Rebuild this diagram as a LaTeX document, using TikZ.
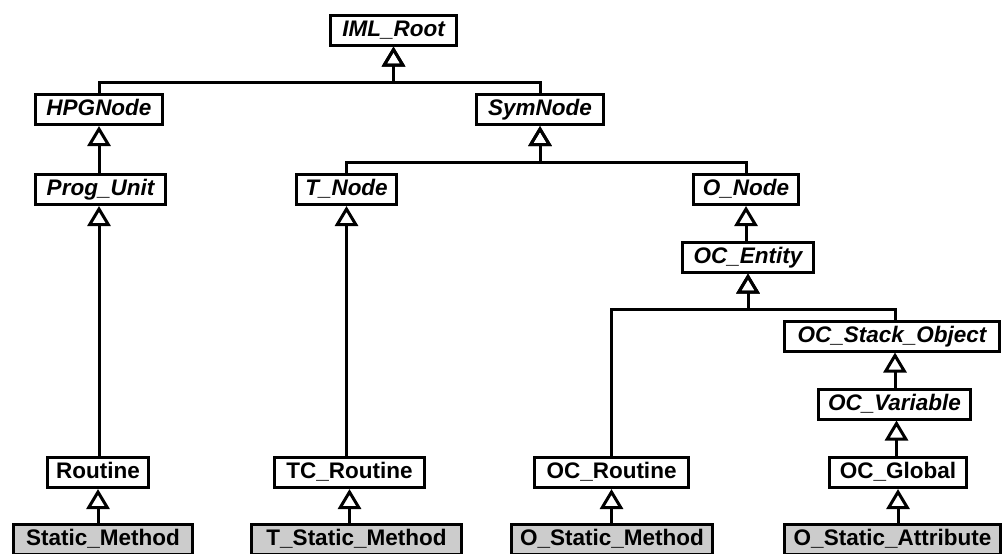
\documentclass[tikz,border=0pt]{standalone}
\usepackage{fontspec}
\setmainfont{Liberation Sans}
\usetikzlibrary{arrows.meta}
\definecolor{leafgray}{RGB}{204,204,204}
\begin{document}
\begin{tikzpicture}[x=1pt,y=-1pt,
  cls/.style={draw, line width=3pt, minimum height=30pt, inner sep=0pt,
    text height=16pt, text depth=3.5pt,
    fill=white, font=\fontsize{22.5}{26}\selectfont\bfseries},
  abstract/.style={cls, font=\fontsize{22.5}{26}\selectfont\bfseries\itshape},
  leaf/.style={cls, fill=leafgray},
  inh/.style={line width=3pt, -{Triangle[open,length=20pt,width=23pt]}}]
\useasboundingbox (0,0) rectangle (1004,554);

% class boxes
\node[abstract, minimum width=126pt] (root)   at (393.5,30)    {IML\_Root};
\node[abstract, minimum width=127pt] (hpg)    at (99,109.5)    {HPGNode};
\node[abstract, minimum width=127pt] (sym)    at (540,109.5)   {SymNode};
\node[abstract, minimum width=130pt] (prog)   at (100.5,189.5) {Prog\_Unit};
\node[abstract, minimum width=100pt] (tnode)  at (346.5,189.5) {T\_Node};
\node[abstract, minimum width=105pt] (onode)  at (746,189.5)   {O\_Node};
\node[abstract, minimum width=131pt] (ocent)  at (748,257)     {OC\_Entity};
\node[abstract, minimum width=215pt] (ocso)   at (892,336)     {OC\_Stack\_Object};
\node[abstract, minimum width=152pt] (ocvar)  at (894.5,404)   {OC\_Variable};
\node[cls, minimum width=101pt]      (rout)   at (98,472.5)    {Routine};
\node[cls, minimum width=150pt]      (tcr)    at (349.5,472.5) {TC\_Routine};
\node[cls, minimum width=154pt]      (ocr)    at (611.5,472.5) {OC\_Routine};
\node[cls, minimum width=137pt]      (ocglob) at (898,472.5)   {OC\_Global};
\node[leaf, minimum width=179pt]     (sm)     at (103,539.5)   {Static\_Method};
\node[leaf, minimum width=210pt]     (tsm)    at (356.5,539.5) {T\_Static\_Method};
\node[leaf, minimum width=201pt]     (osm)    at (612,539.5)   {O\_Static\_Method};
\node[leaf, minimum width=216pt]     (osa)    at (892.5,539.5) {O\_Static\_Attribute};

% heights of the shared horizontal bars
\coordinate (barroot) at (0,82);
\coordinate (barsym)  at (0,162);
\coordinate (barent)  at (0,309);

% generalisations joined by a bar
\draw[inh] (hpg.north) -- (hpg.north |- barroot) -| (root.south);
\draw[inh] (sym.north) -- (sym.north |- barroot) -| (root.south);
\draw[inh] (tnode.north) -- (tnode.north |- barsym) -| (sym.south);
\draw[inh] (onode.north) -- (onode.north |- barsym) -| (sym.south);
\draw[inh] (ocr.north) -- (ocr.north |- barent) -| (ocent.south);
\draw[inh] ([xshift=3pt]ocso.north) -- ([xshift=3pt]ocso.north |- barent) -| (ocent.south);

% single generalisations
\draw[inh] (prog.north -| hpg.south) -- (hpg.south);
\draw[inh] (rout.north -| hpg.south) -- (prog.south -| hpg.south);
\draw[inh] (sm.north -| rout.south) -- (rout.south);
\draw[inh] (tcr.north -| tnode.south) -- (tnode.south);
\draw[inh] (tsm.north -| tcr.south) -- (tcr.south);
\draw[inh] (ocent.north -| onode.south) -- (onode.south);
\draw[inh] (osm.north -| ocr.south) -- (ocr.south);
\draw[inh] ([xshift=3pt]ocvar.north -| ocso.south) -- ([xshift=3pt]ocso.south);
\draw[inh] ([xshift=2pt]ocglob.north -| ocvar.south) -- ([xshift=2pt]ocvar.south);
\draw[inh] (osa.north -| ocglob.south) -- (ocglob.south);
\end{tikzpicture}
\end{document}
